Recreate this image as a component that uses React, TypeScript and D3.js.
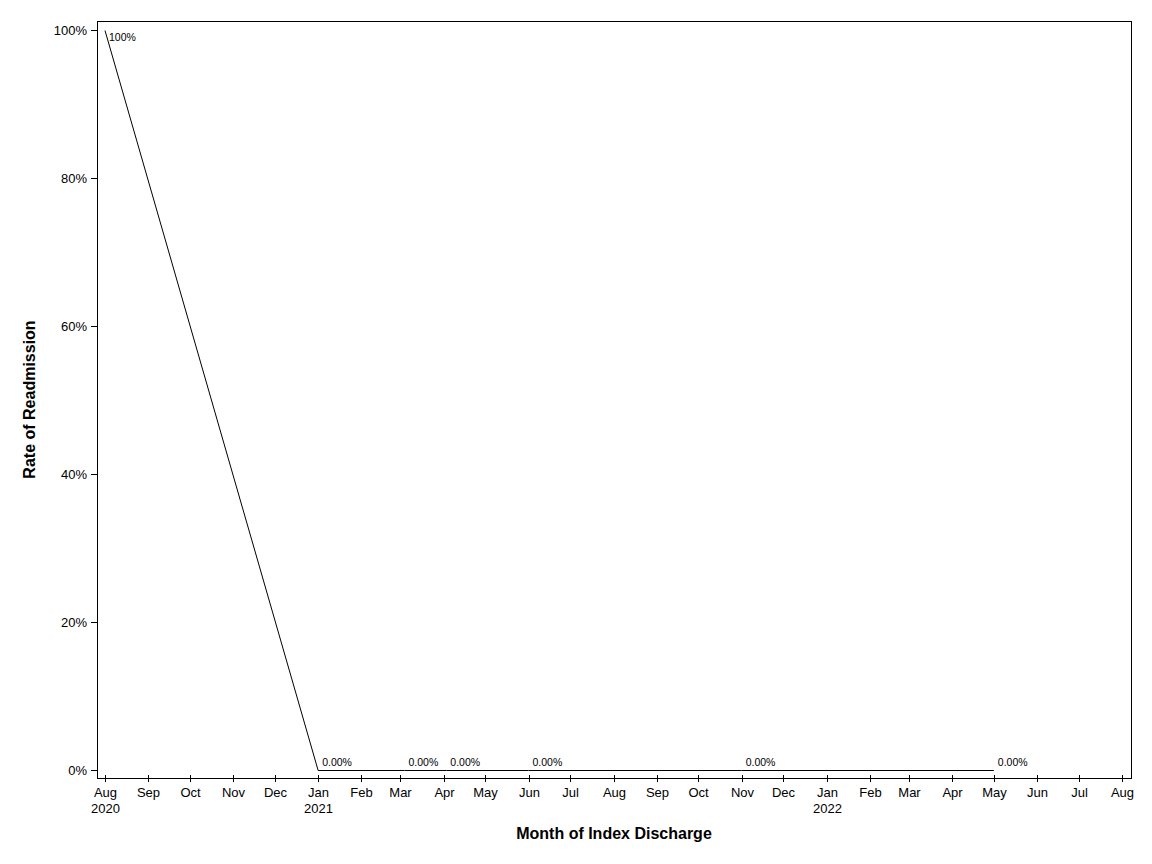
import { useEffect, useRef } from 'react';
import * as d3 from 'd3';

// discharge month, readmission rate, printed label
const dates = ['2020-08-01', '2021-01-01', '2021-03-04', '2021-04-03', '2021-06-01', '2021-11-01', '2022-05-01'];
const rates = [1, 0, 0, 0, 0, 0, 0];
const pointLabels = ['100%', '0.00%', '0.00%', '0.00%', '0.00%', '0.00%', '0.00%'];
const yTicks = [0, 0.2, 0.4, 0.6, 0.8, 1];
const xStart = '2020-08-01';
const xEnd = '2022-08-01';

const parse = d3.timeParse('%Y-%m-%d');
const font = '"Liberation Sans", Arial, sans-serif';

export default function App() {
    const svgRef = useRef<SVGSVGElement>(null);
    const width = 1152;
    const height = 864;
    const frame = { left: 97, right: 1131, top: 21, bottom: 778 };

    useEffect(() => {
        if (!svgRef.current) return;
        const svg = d3.select(svgRef.current);
        svg.selectAll('*').remove();

        const x = d3.scaleTime()
            .domain([parse(xStart)!, parse(xEnd)!])
            .range([105, 1122]);
        const y = d3.scaleLinear().domain([0, 1]).range([770, 30]);

        const data = dates.map((d, i) => ({ date: parse(d)!, rate: rates[i], label: pointLabels[i] }));

        // frame
        svg.append('rect')
            .attr('x', frame.left + 0.5)
            .attr('y', frame.top + 0.5)
            .attr('width', frame.right - frame.left)
            .attr('height', frame.bottom - frame.top)
            .attr('fill', 'none')
            .attr('stroke', '#000')
            .attr('stroke-width', 1);

        // y axis
        const yg = svg.append('g').attr('font-family', font).attr('font-size', 13);
        yTicks.forEach(t => {
            yg.append('line')
                .attr('x1', frame.left - 6).attr('x2', frame.left)
                .attr('y1', y(t) + 0.5).attr('y2', y(t) + 0.5)
                .attr('stroke', '#000');
            yg.append('text')
                .attr('x', frame.left - 10)
                .attr('y', y(t))
                .attr('dy', '0.35em')
                .attr('text-anchor', 'end')
                .text(d3.format('.0%')(t));
        });

        // x axis
        const xg = svg.append('g').attr('font-family', font).attr('font-size', 13);
        const months = d3.timeMonth.range(parse(xStart)!, d3.timeDay.offset(parse(xEnd)!, 1));
        months.forEach((m, i) => {
            const px = Math.round(x(m)) + 0.5;
            xg.append('line')
                .attr('x1', px).attr('x2', px)
                .attr('y1', frame.bottom - 3).attr('y2', frame.bottom + 4)
                .attr('stroke', '#000');
            xg.append('text')
                .attr('x', px)
                .attr('y', 797)
                .attr('text-anchor', 'middle')
                .text(d3.timeFormat('%b')(m));
            if (i === 0 || m.getMonth() === 0) {
                xg.append('text')
                    .attr('x', px)
                    .attr('y', 813)
                    .attr('text-anchor', 'middle')
                    .text(d3.timeFormat('%Y')(m));
            }
        });

        // line
        const line = d3.line<typeof data[number]>()
            .x(d => x(d.date))
            .y(d => y(d.rate) + 0.5);
        svg.append('path')
            .datum(data)
            .attr('d', line)
            .attr('fill', 'none')
            .attr('stroke', '#000')
            .attr('stroke-width', 1);

        // point labels
        svg.append('g')
            .attr('font-family', font)
            .attr('font-size', 10.5)
            .selectAll('text')
            .data(data)
            .enter().append('text')
            .attr('x', d => x(d.date) + 4)
            .attr('y', d => d.rate > 0.5 ? y(d.rate) + 11 : y(d.rate) - 4)
            .text(d => d.label);

        // axis titles
        svg.append('text')
            .attr('x', 614)
            .attr('y', 839)
            .attr('text-anchor', 'middle')
            .attr('font-family', font)
            .attr('font-size', 16)
            .attr('font-weight', 'bold')
            .text('Month of Index Discharge');

        svg.append('text')
            .attr('transform', `translate(35,${(frame.top + frame.bottom) / 2}) rotate(-90)`)
            .attr('text-anchor', 'middle')
            .attr('font-family', font)
            .attr('font-size', 16)
            .attr('font-weight', 'bold')
            .text('Rate of Readmission');
    }, []);

    return (
        <svg
            ref={svgRef}
            width={width}
            height={height}
            style={{ position: 'absolute', left: 0, top: 0, background: '#fff' }}
        />
    );
}
